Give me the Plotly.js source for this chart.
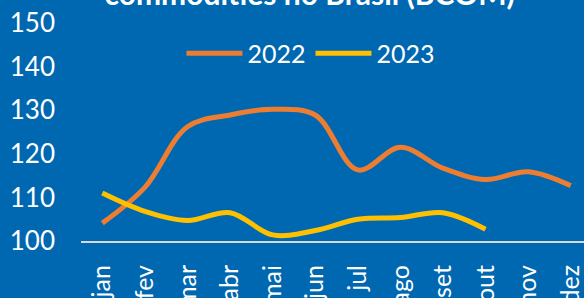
<!DOCTYPE html>
<html>
<head>
<meta charset="utf-8">
<script src="https://cdn.plot.ly/plotly-3.0.1.min.js"></script>
<style>
html,body{margin:0;padding:0;overflow:hidden;background:#0067B1;}
#chart{width:592px;height:298px;}
</style>
</head>
<body>
<div id="chart"></div>
<script>
const months = ["jan","fev","mar","abr","mai","jun","jul","ago","set","out","nov","dez"];
const values2022 = [104.1, 112.3, 126.2, 128.9, 130.2, 128.9, 116.3, 121.5, 116.7, 114.1, 115.9, 112.7];
const values2023 = [111.0, 106.8, 104.7, 106.5, 101.4, 102.4, 105.0, 105.4, 106.5, 102.7];
const months2023 = months.slice(0, values2023.length);

const FONT = "Lato, 'Open Sans', sans-serif";

const traces = [
  {x: months, y: values2022, name: "2022", type: "scatter", mode: "lines",
   line: {color: "#ED7D31", width: 5, shape: "spline", smoothing: 1}},
  {x: months2023, y: values2023, name: "2023", type: "scatter", mode: "lines",
   line: {color: "#FFC000", width: 5, shape: "spline", smoothing: 1}}
];

const layout = {
  width: 592, height: 298,
  paper_bgcolor: "#0067B1", plot_bgcolor: "#0067B1",
  margin: {l: 81, r: 0, t: 23, b: 57},
  font: {family: FONT, color: "#FFFFFF", size: 26},
  title: {text: "commodities no Brasil (BCOM)", font: {family: FONT, size: 30, color: "#FFFFFF", weight: "bold"},
          x: 0.523, xanchor: "center", yref: "container", y: 1 - 5/298, yanchor: "bottom"},
  showlegend: true,
  legend: {orientation: "h", x: 0.45, xanchor: "center", y: 0.86, yanchor: "middle",
           bgcolor: "rgba(0,0,0,0)", font: {family: FONT, size: 25, color: "#FFFFFF"},
           itemwidth: 56, tracegroupgap: 0},
  xaxis: {type: "category", categoryarray: months, range: [-0.5, 11.5],
          tickangle: -90, showgrid: false, zeroline: false,
          showline: true, linecolor: "#D9D9D9", linewidth: 2,
          ticks: "", ticklabelstandoff: 12,
          tickfont: {family: FONT, size: 25, color: "#FFFFFF"}},
  yaxis: {range: [100, 150], dtick: 10, tick0: 100, showgrid: false, zeroline: false,
          showline: false, ticks: "", ticklabelstandoff: 25,
          tickfont: {family: FONT, size: 26, color: "#FFFFFF"}}
};

Plotly.newPlot("chart", traces, layout, {displayModeBar: false, staticPlot: true});
</script>
</body>
</html>
